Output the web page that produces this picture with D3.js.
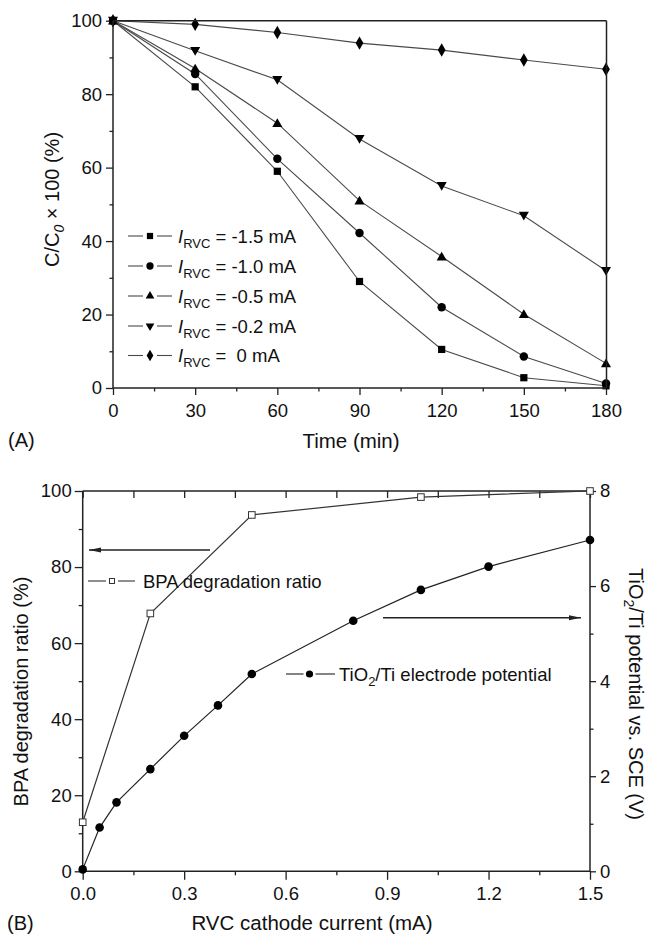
<!DOCTYPE html>
<html>
<head>
<meta charset="utf-8">
<script src="https://cdn.jsdelivr.net/npm/d3@7"></script>
<style>
  body { margin: 0; background: #fff; }
  svg text { font-family: "Liberation Sans", Arial, sans-serif; fill: #111; }
</style>
</head>
<body>
<div id="chart-area"></div>
<script>
// panel A: BPA removal vs time at several RVC currents
var times = [0, 30, 60, 90, 120, 150, 180];
var currentLabels = ["-1.5", "-1.0", "-0.5", "-0.2", " 0"];
var ratio15 = [100, 82, 59, 29, 10.5, 2.8, 0.6];
var ratio10 = [100, 85.5, 62.4, 42.2, 22, 8.6, 1.2];
var ratio05 = [100, 87, 72.1, 51, 35.8, 20.1, 6.7];
var ratio02 = [100, 91.8, 83.9, 67.8, 55, 46.9, 31.9];
var ratio00 = [100, 99, 96.8, 93.9, 92, 89.3, 86.8];

// panel B: degradation ratio and electrode potential vs cathode current
var bpaCurrent = [0, 0.2, 0.5, 1.0, 1.5];
var bpaRatio = [12.9, 67.8, 93.7, 98.4, 100];
var potCurrent = [0, 0.05, 0.1, 0.2, 0.3, 0.4, 0.5, 0.8, 1.0, 1.2, 1.5];
var potential = [0.04, 0.92, 1.45, 2.15, 2.85, 3.49, 4.15, 5.27, 5.92, 6.41, 6.97];

var xTicksA = [0, 30, 60, 90, 120, 150, 180];
var yTicksA = [0, 20, 40, 60, 80, 100];
var xTicksB = [0, 0.3, 0.6, 0.9, 1.2, 1.5];
var yTicksBL = [0, 20, 40, 60, 80, 100];
var yTicksBR = [0, 2, 4, 6, 8];

var svg = d3.select("#chart-area")
    .append("svg")
    .attr("width", 650)
    .attr("height", 934);

var lineColor = "#4a4a4a";
var axisColor = "#222";

svg.append("defs").append("marker")
    .attr("id", "arrow")
    .attr("viewBox", "0 0 12 6")
    .attr("refX", 12).attr("refY", 3)
    .attr("markerWidth", 12).attr("markerHeight", 6)
    .attr("markerUnits", "userSpaceOnUse")
    .attr("orient", "auto")
    .append("path")
    .attr("d", "M0,0.5 L12,3 L0,5.5 Z")
    .attr("fill", "#222");

function styleAxis(g, fontSize) {
    g.select(".domain").remove();
    g.selectAll("line").attr("stroke", axisColor).attr("stroke-width", 1.3);
    g.selectAll("text").style("font-size", fontSize + "px").attr("fill", "#111");
}

function hline(x1, x2, y) {
    svg.append("line").attr("x1", x1).attr("x2", x2).attr("y1", y).attr("y2", y)
        .attr("stroke", axisColor).attr("stroke-width", 1.5);
}
function vline(x, y1, y2) {
    svg.append("line").attr("x1", x).attr("x2", x).attr("y1", y1).attr("y2", y2)
        .attr("stroke", axisColor).attr("stroke-width", 1.5);
}
// legend line with a gap around the marker
function legendLine(x1, x2, cx, gap, y, color) {
    svg.append("line").attr("x1", x1).attr("x2", cx - gap).attr("y1", y).attr("y2", y)
        .attr("stroke", color).attr("stroke-width", 1.1);
    svg.append("line").attr("x1", cx + gap).attr("x2", x2).attr("y1", y).attr("y2", y)
        .attr("stroke", color).attr("stroke-width", 1.1);
}

// ---------- panel A ----------
var xA = d3.scaleLinear().domain([0, 180]).range([113, 606]);
var yA = d3.scaleLinear().domain([0, 100]).range([388, 20.7]);

var symbolsA = [
    { type: d3.symbolSquare, size: 52, rot: 0 },
    { type: d3.symbolCircle, size: 56, rot: 0 },
    { type: d3.symbolTriangle, size: 44, rot: 0 },
    { type: d3.symbolTriangle, size: 44, rot: 180 },
    { type: d3.symbolDiamond, size: 52, rot: 0 }
];
var seriesA = [ratio15, ratio10, ratio05, ratio02, ratio00];

svg.append("g").attr("transform", "translate(0,388)")
    .call(d3.axisBottom(xA).tickValues(xTicksA).tickSize(7).tickPadding(9).tickFormat(d3.format("d")))
    .call(styleAxis, 18.5);
svg.append("g").attr("transform", "translate(0,388)")
    .call(d3.axisBottom(xA).tickValues([15, 45, 75, 105, 135, 165]).tickSize(3.5).tickFormat(""))
    .call(styleAxis, 18.5);
svg.append("g").attr("transform", "translate(113,0)")
    .call(d3.axisLeft(yA).tickValues(yTicksA).tickSize(7).tickPadding(4))
    .call(styleAxis, 18.5);
svg.append("g").attr("transform", "translate(113,0)")
    .call(d3.axisLeft(yA).tickValues([10, 30, 50, 70, 90]).tickSize(3.5).tickFormat(""))
    .call(styleAxis, 18.5);

var lineA = d3.line().x(function(d, i) { return xA(times[i]); }).y(function(d) { return yA(d); });

seriesA.forEach(function(s, k) {
    svg.append("path").datum(s)
        .attr("d", lineA)
        .attr("fill", "none")
        .attr("stroke", lineColor)
        .attr("stroke-width", 1.1);
    svg.selectAll(".ptA" + k)
        .data(s)
        .enter()
        .append("path")
        .attr("class", "ptA" + k)
        .attr("d", d3.symbol().type(symbolsA[k].type).size(symbolsA[k].size))
        .attr("transform", function(d, i) {
            var dy = symbolsA[k].type === d3.symbolTriangle ? (symbolsA[k].rot ? -1 : 1) : 0;
            return "translate(" + xA(times[i]) + "," + (yA(d) + dy) + ") rotate(" + symbolsA[k].rot + ")";
        })
        .attr("fill", "#000");
});

// frame A
hline(113, 606.5, 20.7);
vline(606.5, 20.7, 388);
hline(113, 606.5, 388);
vline(113, 20.7, 388);

// legend A
var legendY = [236, 266, 296, 326, 355.5];
currentLabels.forEach(function(lab, k) {
    var y = legendY[k];
    legendLine(128, 172, 150, 7, y, lineColor);
    svg.append("path")
        .attr("d", d3.symbol().type(symbolsA[k].type).size(symbolsA[k].size * 0.75))
        .attr("transform", "translate(150," + y + ") rotate(" + symbolsA[k].rot + ")")
        .attr("fill", "#000");
    var t = svg.append("text").attr("x", 178).attr("y", y + 6.5).style("font-size", "18.5px")
        .attr("xml:space", "preserve");
    t.append("tspan").style("font-style", "italic").text("I");
    t.append("tspan").attr("dy", 5).style("font-size", "13px").text("RVC");
    t.append("tspan").attr("dy", -5).text(" = " + lab + " mA");
});

// axis titles A
var yTitleA = svg.append("text")
    .attr("transform", "translate(58.5,199.5) rotate(-90)")
    .attr("text-anchor", "middle")
    .style("font-size", "20px");
yTitleA.append("tspan").text("C/C");
yTitleA.append("tspan").attr("dy", 5).style("font-size", "14px").style("font-style", "italic").text("0");
yTitleA.append("tspan").attr("dy", -5).text(" \u00d7 100 (%)");

svg.append("text").attr("x", 351).attr("y", 448).attr("text-anchor", "middle")
    .style("font-size", "20.5px").text("Time (min)");
svg.append("text").attr("x", 8).attr("y", 447).style("font-size", "20px").text("(A)");

// ---------- panel B ----------
var xB = d3.scaleLinear().domain([0, 1.5]).range([82.7, 590]);
var yBL = d3.scaleLinear().domain([0, 100]).range([871.3, 491]);
var yBR = d3.scaleLinear().domain([0, 8]).range([871.3, 491]);

var minorXB = [0.15, 0.45, 0.75, 1.05, 1.35];

svg.append("g").attr("transform", "translate(0,871.3)")
    .call(d3.axisBottom(xB).tickValues(xTicksB).tickSize(8.5).tickPadding(7).tickFormat(d3.format(".1f")))
    .call(styleAxis, 18.5);
svg.append("g").attr("transform", "translate(0,871.3)")
    .call(d3.axisBottom(xB).tickValues(minorXB).tickSize(4).tickFormat(""))
    .call(styleAxis, 18.5);
// top axis: inward ticks, no labels
svg.append("g").attr("transform", "translate(0,491)")
    .call(d3.axisTop(xB).tickValues(xTicksB.concat(minorXB)).tickSize(-7).tickFormat(""))
    .call(styleAxis, 18.5);
svg.append("g").attr("transform", "translate(82.7,0)")
    .call(d3.axisLeft(yBL).tickValues(yTicksBL).tickSize(8).tickPadding(3))
    .call(styleAxis, 18.5);
svg.append("g").attr("transform", "translate(82.7,0)")
    .call(d3.axisLeft(yBL).tickValues([10, 30, 50, 70, 90]).tickSize(4).tickFormat(""))
    .call(styleAxis, 18.5);
svg.append("g").attr("transform", "translate(590,0)")
    .call(d3.axisRight(yBR).tickValues(yTicksBR).tickSize(6).tickPadding(4))
    .call(styleAxis, 18.5);
svg.append("g").attr("transform", "translate(590,0)")
    .call(d3.axisRight(yBR).tickValues([1, 3, 5, 7]).tickSize(3.5).tickFormat(""))
    .call(styleAxis, 18.5);

hline(82.7, 590, 491);
hline(82.7, 590, 871.3);
vline(82.7, 491, 871.3);
vline(590, 491, 871.3);

// BPA ratio series (open squares)
svg.append("path").datum(bpaRatio)
    .attr("d", d3.line().x(function(d, i) { return xB(bpaCurrent[i]); }).y(function(d) { return yBL(d); }))
    .attr("fill", "none").attr("stroke", "#333").attr("stroke-width", 1.2);
svg.selectAll(".bpa")
    .data(bpaRatio)
    .enter()
    .append("rect")
    .attr("class", "bpa")
    .attr("x", function(d, i) { return xB(bpaCurrent[i]) - 3.3; })
    .attr("y", function(d) { return yBL(d) - 3.3; })
    .attr("width", 6.6).attr("height", 6.6)
    .attr("fill", "#fff").attr("stroke", "#333").attr("stroke-width", 1);

// potential series (filled circles)
svg.append("path").datum(potential)
    .attr("d", d3.line().x(function(d, i) { return xB(potCurrent[i]); }).y(function(d) { return yBR(d); }))
    .attr("fill", "none").attr("stroke", "#222").attr("stroke-width", 1.2);
svg.selectAll(".pot")
    .data(potential)
    .enter()
    .append("circle")
    .attr("class", "pot")
    .attr("cx", function(d, i) { return xB(potCurrent[i]); })
    .attr("cy", function(d) { return yBR(d); })
    .attr("r", 4.3)
    .attr("fill", "#000");

// arrows
svg.append("line").attr("x1", 210).attr("x2", 89).attr("y1", 550).attr("y2", 550)
    .attr("stroke", "#222").attr("stroke-width", 1.5).attr("marker-end", "url(#arrow)");
svg.append("line").attr("x1", 383).attr("x2", 581).attr("y1", 617.7).attr("y2", 617.7)
    .attr("stroke", "#222").attr("stroke-width", 1.5).attr("marker-end", "url(#arrow)");

// legend B
legendLine(88, 135, 112, 6, 581, "#333");
svg.append("rect").attr("x", 109.5).attr("y", 578.5).attr("width", 5).attr("height", 5)
    .attr("fill", "#fff").attr("stroke", "#333").attr("stroke-width", 1);
svg.append("text").attr("x", 143).attr("y", 587.5).style("font-size", "18.5px").text("BPA degradation ratio");

legendLine(286, 335, 309.5, 6, 674, "#222");
svg.append("circle").attr("cx", 309.5).attr("cy", 674).attr("r", 3.6).attr("fill", "#000");
var legB2 = svg.append("text").attr("x", 339).attr("y", 680.5).style("font-size", "18.5px");
legB2.append("tspan").text("TiO");
legB2.append("tspan").attr("dy", 5).style("font-size", "13px").text("2");
legB2.append("tspan").attr("dy", -5).text("/Ti electrode potential");

// axis titles B
svg.append("text")
    .attr("transform", "translate(28,691.5) rotate(-90)")
    .attr("text-anchor", "middle")
    .style("font-size", "20px")
    .text("BPA degradation ratio (%)");

var yTitleBR = svg.append("text")
    .attr("transform", "translate(629,694) rotate(90)")
    .attr("text-anchor", "middle")
    .style("font-size", "20px");
yTitleBR.append("tspan").text("TiO");
yTitleBR.append("tspan").attr("dy", 5).style("font-size", "14px").text("2");
yTitleBR.append("tspan").attr("dy", -5).text("/Ti potential vs. SCE (V)");

svg.append("text").attr("x", 312).attr("y", 930).attr("text-anchor", "middle")
    .style("font-size", "20.5px").text("RVC cathode current (mA)");
svg.append("text").attr("x", 7).attr("y", 930).style("font-size", "20px").text("(B)");
</script>
</body>
</html>
